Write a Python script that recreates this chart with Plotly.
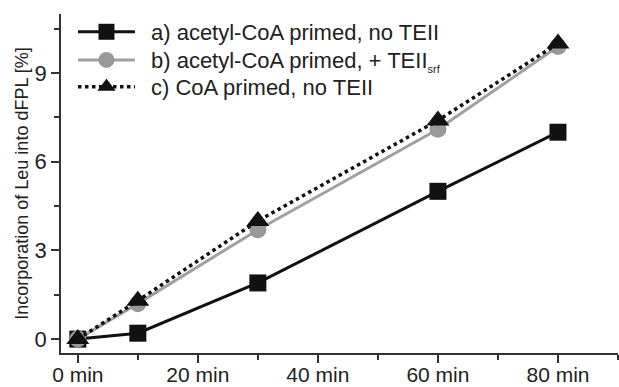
import plotly.graph_objects as go

times = [0, 10, 30, 60, 80]
series_a = [0.0, 0.2, 1.9, 5.0, 7.0]
series_b = [0.0, 1.2, 3.7, 7.1, 9.9]
series_c = [0.0, 1.3, 4.0, 7.4, 10.0]
names = ["\u2002a) acetyl-CoA primed, no TEII",
         "\u2002b) acetyl-CoA primed, + TEII<sub><span style='font-size:11px;color:#222222'>srf</span></sub>",
         "\u2002c) CoA primed, no TEII"]
xtick_vals = [0, 20, 40, 60, 80]
xtick_text = ["0 min", "20 min", "40 min", "60 min", "80 min"]
ytick_vals = [0, 3, 6, 9]

fig = go.Figure()
fig.add_trace(go.Scatter(x=times, y=series_a, name=names[0], mode="lines+markers",
                         line=dict(color="#111111", width=3), legend="legend", showlegend=True,
                         marker=dict(symbol="square", size=17, color="#111111")))
fig.add_trace(go.Scatter(x=times, y=series_b, name=names[1], mode="lines+markers",
                         line=dict(color="#a0a0a0", width=3), legend="legend2", showlegend=True,
                         marker=dict(symbol="circle", size=17, color="#999999")))
fig.add_trace(go.Scatter(x=times, y=series_c, name=names[2], mode="lines+markers",
                         line=dict(color="#111111", width=3.5, dash="dot"), legend="legend3",
                         showlegend=True,
                         marker=dict(symbol="triangle-up", size=20, color="#111111")))

axis_common = dict(showline=True, linecolor="#333333", linewidth=1.5, ticks="outside",
                   ticklen=8, tickwidth=1.5, tickcolor="#333333", showgrid=False,
                   zeroline=False, automargin=False)
fig.update_xaxes(range=[-2.8, 90], tickvals=xtick_vals, ticktext=xtick_text,
                 ticklabelstandoff=-6, tickfont=dict(size=21, color="#222222"),
                 minor=dict(tickvals=[10, 30, 50, 70, 90], ticklen=5, tickwidth=1.5,
                            tickcolor="#333333", ticks="outside"),
                 **axis_common)
fig.update_yaxes(range=[-0.47, 11], tickvals=ytick_vals, tickfont=dict(size=22, color="#222222"),
                 minor=dict(tickvals=[1.5, 4.5, 7.5, 10.5], ticklen=5, tickwidth=1.5,
                            tickcolor="#333333", ticks="outside"),
                 title=dict(text="Incorporation of Leu into dFPL [%]",
                            font=dict(size=18, color="#222222"), standoff=1),
                 **axis_common)
leg_common = dict(x=0.0215, xanchor="left", yanchor="middle",
                  font=dict(size=22, color="#222222"),
                  bgcolor="rgba(0,0,0,0)", itemwidth=57)
fig.update_layout(width=619, height=387, margin=dict(l=61, r=1, t=14, b=34),
                  paper_bgcolor="white", plot_bgcolor="white", showlegend=True,
                  font=dict(family="Liberation Sans, Arial, sans-serif", color="#222222"),
                  legend=dict(y=0.947, **leg_common),
                  legend2=dict(y=0.864, **leg_common),
                  legend3=dict(y=0.785, **leg_common))
fig.write_html("out.html", config={"displayModeBar": False},
               post_script="document.body.style.margin='0';document.body.style.overflow='hidden';")
